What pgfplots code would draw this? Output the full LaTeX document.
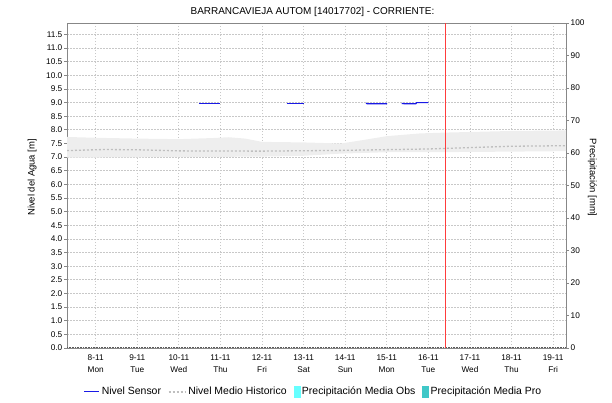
\documentclass[border=0pt]{standalone}
\usepackage{pgfplots}
\pgfplotsset{compat=1.18}
\usepackage{fontspec}
\setmainfont{Liberation Sans}
\definecolor{gridc}{HTML}{C8C8C8}
\definecolor{axc}{HTML}{878787}
\definecolor{bandc}{HTML}{EEEEEE}
\definecolor{meanc}{HTML}{BFBFBF}
\definecolor{sensorblue}{HTML}{1A1AE6}
\definecolor{obscyan}{HTML}{66FFFF}
\definecolor{proteal}{HTML}{40C8C8}
\definecolor{nowred}{HTML}{FF3C3C}
\begin{document}
\begin{tikzpicture}[x=1bp,y=1bp]
\path[use as bounding box] (0,0) rectangle (612,402);
% right axis (precipitation)
\begin{axis}[
  at={(67bp,54bp)}, anchor=south west, scale only axis,
  width=499bp, height=325bp,
  xmin=7.31, xmax=19.31, ymin=0, ymax=100,
  hide x axis,
  axis y line*=right,
  axis line style={axc, line width=0.8bp},
  ytick={0,10,...,100},
  tick align=outside,
  major tick length=3bp,
  tick style={axc, line width=0.8bp},
  yticklabel style={font=\fontsize{8.3}{10}\selectfont, inner sep=1.5bp},
  /pgf/number format/assume math mode=true,
  ylabel={Precipitación [mm]},
  every axis y label/.style={at={(rel axis cs:1.053,0.524)}, rotate=-90, anchor=center, font=\fontsize{9.5}{11}\selectfont},
]
\end{axis}
% left axis (water level)
\begin{axis}[
  at={(67bp,54bp)}, anchor=south west, scale only axis,
  width=499bp, height=325bp,
  xmin=7.31, xmax=19.31, ymin=0, ymax=11.92,
  axis line style={axc, line width=0.8bp},
  ytick={0,0.5,...,11.5},
  ytick pos=left,
  xtick pos=bottom,
  tick align=outside,
  major tick length=3bp,
  tick style={axc, line width=0.8bp},
  xtick={8,9,...,19},
  xticklabels={{8-11\\Mon},{9-11\\Tue},{10-11\\Wed},{11-11\\Thu},{12-11\\Fri},{13-11\\Sat},{14-11\\Sun},{15-11\\Mon},{16-11\\Tue},{17-11\\Wed},{18-11\\Thu},{19-11\\Fri}},
  xtick style={draw=none},
  xticklabel style={align=center, font=\fontsize{8.3}{11.7}\selectfont, inner sep=1bp, yshift=-3bp},
  yticklabel style={font=\fontsize{8.3}{10}\selectfont, inner sep=1.5bp,
    /pgf/number format/.cd, fixed, fixed zerofill, precision=1},
  /pgf/number format/assume math mode=true,
  grid=major,
  grid style={gridc, dash pattern=on 1.5bp off 1.5bp, line width=0.8bp},
  title={BARRANCAVIEJA AUTOM [14017702] - CORRIENTE:},
  every axis title/.style={at={(rel axis cs:0.492,1.034)}, anchor=center, font=\fontsize{10}{12}\selectfont},
  ylabel={Nivel del Agua [m]},
  every axis y label/.style={at={(rel axis cs:-0.070,0.525)}, rotate=90, anchor=center, font=\fontsize{9.5}{11}\selectfont},
  legend columns=4,
  legend style={draw=none, fill=none, at={(rel axis cs:0.033,-0.135)}, anchor=west,
    font=\fontsize{10.5}{12}\selectfont, inner sep=0bp,
    /tikz/every even column/.append style={column sep=5bp}},
  legend cell align=left,
]
% historical band
\addplot[fill=bandc, draw=none, forget plot] coordinates {
 (7.31,7.74) (8.0,7.71) (9.0,7.68) (10.0,7.66) (10.8,7.70) (11.2,7.73) (11.6,7.68)
 (12.0,7.56) (13.0,7.54) (13.9,7.50) (14.4,7.62) (15.0,7.77) (15.8,7.87) (16.4,7.90)
 (18.0,7.96) (19.31,7.98)
 (19.31,7.22) (17.0,7.19) (15.0,7.18) (13.9,7.13) (13.0,7.05) (12.0,7.02) (7.31,6.98)
} -- cycle;
% historical mean
\addplot[meanc, line width=1.3bp, dash pattern=on 2bp off 2bp, forget plot] coordinates {
 (7.31,7.24) (8.2,7.28) (9.0,7.27) (10.0,7.23) (12.0,7.22) (14.0,7.25) (16.0,7.30)
 (17.0,7.35) (18.0,7.40) (19.31,7.42)
};
% precipitation zero line
\addplot[black!65, line width=0.9bp, dash pattern=on 0.8bp off 0.8bp, forget plot] coordinates {(7.31,0.02) (19.31,0.02)};
% sensor level
\addplot[color=sensorblue, line width=1.2bp, forget plot] coordinates {(10.49,8.96) (11.0,8.96)};
\addplot[color=sensorblue, line width=1.2bp, forget plot] coordinates {(12.59,8.96) (13.01,8.96)};
\addplot[color=sensorblue, line width=1.2bp, forget plot] coordinates {(14.50,8.98) (14.53,8.96) (15.01,8.96)};
\addplot[color=sensorblue, line width=1.2bp, forget plot] coordinates {(15.36,8.97) (15.42,8.96) (15.70,8.96) (15.72,9.0) (16.0,9.0)};
% now line (16-11, about 10:00)
\addplot[color=nowred, line width=1.2bp, forget plot] coordinates {(16.42,0) (16.42,11.92)};
% legend
\addlegendimage{legend image code/.code={\draw[color=sensorblue, line width=1.1bp] (0bp,0bp) -- (15bp,0bp);}}
\addlegendentry{Nivel Sensor}
\addlegendimage{legend image code/.code={\draw[color=meanc, line width=1.3bp, dash pattern=on 2bp off 2bp] (0bp,0bp) -- (17bp,0bp);}}
\addlegendentry{Nivel Medio Historico}
\addlegendimage{legend image code/.code={\fill[obscyan] (0bp,-5.5bp) rectangle (6bp,5.5bp);}}
\addlegendentry{Precipitación Media Obs}
\addlegendimage{legend image code/.code={\fill[proteal] (0bp,-5.5bp) rectangle (6bp,5.5bp);}}
\addlegendentry{Precipitación Media Pro}
\end{axis}
\end{tikzpicture}
\end{document}
